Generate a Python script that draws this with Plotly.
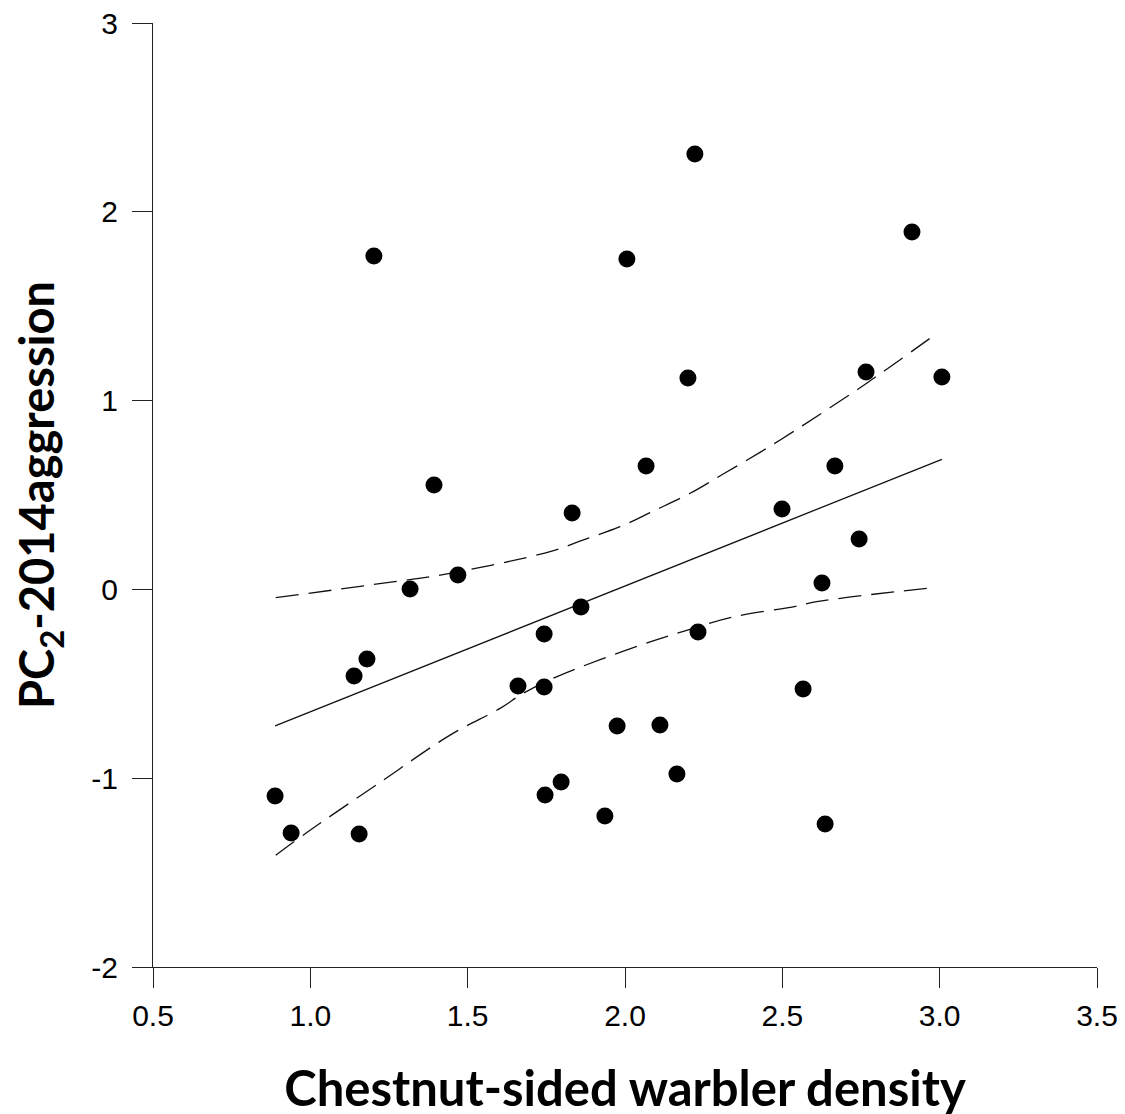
import plotly.graph_objects as go

# Observed data (Chestnut-sided warbler density vs PC2-2014 aggression)
density = [0.888, 0.939, 1.139, 1.180, 1.155, 1.202, 1.317, 1.393, 1.469, 1.660,
           1.743, 1.743, 1.746, 1.797, 1.832, 1.860, 1.936, 1.975, 2.006, 2.067,
           2.111, 2.165, 2.200, 2.222, 2.232, 2.499, 2.566, 2.626, 2.636, 2.667,
           2.744, 2.766, 2.912, 3.007]
aggression = [-1.094, -1.290, -0.459, -0.369, -1.296, 1.766, 0.002, 0.553, 0.076, -0.512,
              -0.236, -0.517, -1.089, -1.020, 0.405, -0.093, -1.200, -0.723, 1.750, 0.654,
              -0.718, -0.978, 1.120, 2.306, -0.226, 0.426, -0.528, 0.034, -1.243, 0.654,
              0.267, 1.152, 1.893, 1.125]

# Regression line
fit_x = [0.888, 3.007]
fit_y = [-0.723, 0.689]

# Upper confidence band
upper_x = [0.890, 1.232, 1.417, 1.762, 1.868, 1.984, 2.090, 2.207, 2.312, 2.429, 2.540, 2.651, 2.768, 2.987]
upper_y = [-0.044, 0.033, 0.077, 0.200, 0.262, 0.332, 0.415, 0.509, 0.611, 0.726, 0.841, 0.962, 1.092, 1.351]

# Lower confidence band
lower_x = [0.890, 0.999, 1.232, 1.444, 1.603, 1.677, 1.788, 2.048, 2.196, 2.344, 2.542, 2.609, 2.987]
lower_y = [-1.408, -1.276, -1.010, -0.772, -0.630, -0.550, -0.459, -0.296, -0.217, -0.146, -0.090, -0.065, 0.011]

x_ticks = [0.5, 1.0, 1.5, 2.0, 2.5, 3.0, 3.5]
x_tick_text = ["0.5", "1.0", "1.5", "2.0", "2.5", "3.0", "3.5"]
y_ticks = [-2, -1, 0, 1, 2, 3]
y_tick_text = ["-2", "-1", "0", "1", "2", "3"]

fig = go.Figure()

fig.add_trace(go.Scatter(x=upper_x, y=upper_y, mode="lines", line_shape="spline",
                         line=dict(color="#111111", width=1.3, dash="23px,10px"),
                         showlegend=False, hoverinfo="skip"))
fig.add_trace(go.Scatter(x=lower_x, y=lower_y, mode="lines", line_shape="spline",
                         line=dict(color="#111111", width=1.3, dash="23px,10px"),
                         showlegend=False, hoverinfo="skip"))
fig.add_trace(go.Scatter(x=fit_x, y=fit_y, mode="lines",
                         line=dict(color="#111111", width=1.3),
                         showlegend=False, hoverinfo="skip"))
fig.add_trace(go.Scatter(x=density, y=aggression, mode="markers",
                         marker=dict(color="black", size=17, line=dict(width=0)),
                         showlegend=False))

tick_font = dict(family="Liberation Sans, Arial, sans-serif", size=30, color="black")

fig.update_layout(
    width=1125, height=1114,
    margin=dict(l=145, r=36, t=15, b=155),
    paper_bgcolor="white", plot_bgcolor="white",
    xaxis=dict(
        range=[0.5, 3.5], tickvals=x_ticks, ticktext=x_tick_text, automargin=False,
        showgrid=False, zeroline=False, showline=True, linecolor="#222222", linewidth=1.3,
        ticks="outside", ticklen=20, tickwidth=1.3, tickcolor="#222222",
        tickfont=tick_font, ticklabelstandoff=2, ticklabeloverflow="allow",
        title=dict(text="<b>Chestnut-sided warbler density</b>",
                   font=dict(family="Lato, Open Sans, sans-serif", size=49, color="black"),
                   standoff=40),
    ),
    yaxis=dict(
        range=[-2, 3], tickvals=y_ticks, ticktext=y_tick_text, automargin=False,
        showgrid=False, zeroline=False, showline=True, linecolor="#222222", linewidth=1.3,
        ticks="outside", ticklen=20, tickwidth=1.3, tickcolor="#222222",
        tickfont=tick_font, ticklabelstandoff=8, ticklabeloverflow="allow",
        title=dict(text="<b>PC<sub>2</sub>-2014aggression</b>",
                   font=dict(family="Lato, Open Sans, sans-serif", size=47, color="black"),
                   standoff=29),
    ),
)

fig.write_html("out.html")
